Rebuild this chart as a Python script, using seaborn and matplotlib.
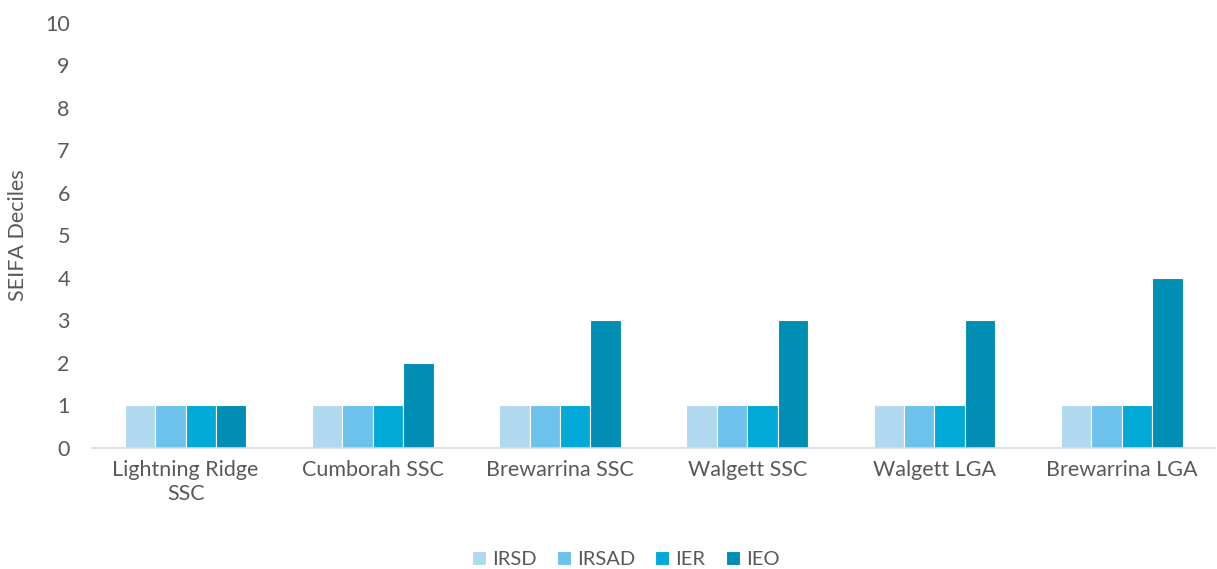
import matplotlib
matplotlib.use('Agg')
import matplotlib.pyplot as plt
import seaborn as sns
import pandas as pd

# data
areas = ['Lightning Ridge\nSSC', 'Cumborah SSC', 'Brewarrina SSC',
         'Walgett SSC', 'Walgett LGA', 'Brewarrina LGA']
irsd = [1, 1, 1, 1, 1, 1]
irsad = [1, 1, 1, 1, 1, 1]
ier = [1, 1, 1, 1, 1, 1]
ieo = [1, 2, 3, 3, 3, 4]
indexes = ['IRSD', 'IRSAD', 'IER', 'IEO']
colors = ['#B0D9F0', '#6CC2EA', '#00A9D6', '#008EB5']

rows = []
for name, vals in zip(indexes, [irsd, irsad, ier, ieo]):
    for a, v in zip(areas, vals):
        rows.append({'area': a, 'index': name, 'decile': v})
df = pd.DataFrame(rows)

sns.set_style('white')
plt.rcParams['font.family'] = ['Lato', 'DejaVu Sans']
grey = '#595959'

fig = plt.figure(figsize=(12.17, 5.69), dpi=100)
ax = fig.add_axes([0.0756, 0.2127, 0.9230, 0.7469])
sns.barplot(data=df, x='area', y='decile', hue='index', palette=colors,
            saturation=1, width=0.65, edgecolor='white', linewidth=0.8,
            ax=ax, legend=True)

ax.set_ylim(0, 10)
ax.set_yticks(range(0, 11))
ax.set_xlim(-0.5, 5.5)
ax.set_xlabel('')
ax.set_ylabel('SEIFA Deciles', fontsize=15.5, color=grey, labelpad=12)
ax.tick_params(axis='both', labelsize=15.5, colors=grey, length=0)
ax.tick_params(axis='x', pad=9)
ax.tick_params(axis='y', pad=16)
for s in ['top', 'right', 'left']:
    ax.spines[s].set_visible(False)
ax.spines['bottom'].set_color('#D9D9D9')
ax.spines['bottom'].set_linewidth(1.2)

ax.legend(loc='center', bbox_to_anchor=(0.475, -0.262), ncol=4,
          frameon=False, fontsize=14.5, labelcolor=grey, handlelength=0.7,
          handleheight=0.7, handletextpad=0.3, columnspacing=1.0)

fig.savefig('out.png', dpi=100)
